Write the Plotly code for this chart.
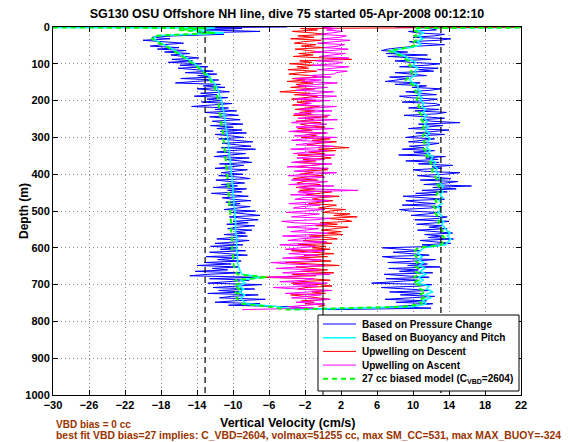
import plotly.graph_objects as go

# ---------------- data ----------------
# sample depths (m); the noisy profiles are sampled every 4 m, the smooth ones every 8 m
DEPTH_DOWN_FINE = [0, 2] + list(range(4, 764, 4))
DEPTH_UP_FINE = [768] + list(range(764, 0, -4)) + [2, 0]
DEPTH_DOWN = [0, 3] + list(range(8, 768, 8))
DEPTH_UP = [768] + list(range(760, 0, -8)) + [3, 0]

# descent: based on pressure change (cm/s), every 4 m
BLUE_DOWN = [
    -4, -15,
    -9, -13, -7, -14, -11, -16.5, -19, -17, -20, -18,
    -15.5, -17.8, -19.2, -16, -18.4, -15.2, -17.6, -14.8, -16.9, -15.5,
    -13.8, -16.8, -14.5, -17.2, -13.5, -15.9, -12.8, -16.1, -14, -12.2,
    -15.3, -11.8, -13.9, -12.5, -15.8, -11.6, -14.2, -16.4, -11.4, -13.3,
    -10.9, -14, -12.1, -10.4, -13.6, -11.8, -14.3, -10.6, -12.9, -11.2,
    -13.5, -10.1, -12.4, -14.6, -10.5, -12, -9.6, -13.1, -11, -9.4,
    -12.6, -10.7, -9.2, -12.3, -11.1, -8.9, -12.5, -10, -11.8, -9,
    -11.4, -8.5, -12, -10.2, -8.8, -11.6, -9.4, -7.8, -11.2, -9.6,
    -8, -11.3, -7.5, -10.4, -11.8, -8.6, -10, -12.1, -8.2, -10.9,
    -9.2, -7.9, -11.5, -8.8, -10.2, -12, -8.4, -9.9, -11.3, -8.9,
    -11.6, -9.3, -8.1, -11.9, -10, -8.7, -11.3, -9.5, -12.2, -8.5,
    -10.6, -9, -12.4, -9.7, -8.3, -11.2, -10.1, -8, -10.8, -9.2,
    -10.5, -8.1, -9.6, -11, -7.5, -10.2, -8.6, -7, -10.4, -8.9,
    -7.2, -10, -8.3, -10.7, -7.6, -9.4, -10.6, -7.9, -9.8, -8.6,
    -11, -8.4, -10.3, -11.8, -8.2, -9.7, -12, -8.9, -12.5, -9.5,
    -11.4, -8.6, -12.6, -10, -8.4, -13, -9.6, -11.7, -9.1, -13.2,
    -10.2, -14, -9.4, -12.3, -10.6, -14.2, -9.2, -12.8, -14.8, -7.5,
    -12.6, -8.2, -11, -12.8, -6.8, -10.4, -12.2, -7.6, -11.6, -9,
    -12.8, -7.2, -10.2, -11.5, -6.4, -9.8, -12, -7, -10.5, -4,
]
# upwelling on descent, every 4 m
RED_DOWN = [
    25, 3,
    -2.5, -0.6, -3.4, -1.2, 0.3, -2.8, -1, -3.6, -0.2, -2.2,
    -3.2, -0.8, -2.4, 0.1, -3.1, -1.5, -0.3, -2.7, -1.1, -3.3,
    0, 3.2, -2.6, -1.2, -3.7, -0.9, -2.9, -1.6, -3.9, -0.7,
    -2.5, -3.8, -1.3, -0.6, -3.4, -2, -4, -1.1, -3, -1.8,
    -3.6, -0.9, -2.7, -4.8, -1.4, -3.2, -0.6, -2.3, -3.5, -0.8,
    -2.9, -1.6, -3.4, -0.4, -2.2, -3.1, -0.9, -2.6, -1.3, -3.3,
    0.5, -2.1, -1, -3, -0.2, -2.5, -1.7, 0.2, -2.8, -1.2,
    -3.3, 0.3, -1.9, -0.7, -2.4, 0.8, -1.2, 1.5, -0.4, -1.8,
    0.6, 2.9, -0.5, 1.4, -1.6, 0.2, -2.8, -0.3, 0.9, -2.2,
    -0.8, -3.2, 0.4, -1.7, -2.9, -0.5, 0.5, -2.4, -1.1, -2.6,
    0, -1.9, -3.3, -0.6, -2.2, -2.9, -0.3, -1.5, -3, -0.9,
    -2.6, 1, -0.8, -1.9, 1.8, -0.4, -1.2, 1.1, -0.2, -1.6,
    1.5, 0.2, -0.5, 2.5, 0.8, 0, 3, 1.2, 3.8, 0.4,
    2.4, 3.2, -0.3, 1.6, -0.8, 2.8, 0.9, -0.2, 2, 0.5,
    2.2, -1.5, 0.6, 1.6, -2.2, -0.4, 1, -2.8, 0.3, -1.2,
    0.8, -3.5, -0.9, 1.2, -2.1, 0.5, -3.1, -1.5, 0.9, -4.2,
    -0.6, 1.8, -3, -1.4, 0.5, -2.5, 1.2, -3.4, -0.8, -7,
    -1.5, 0.8, -2.6, -3.5, -0.4, 1, -1.9, -2.8, 0.4, -1.2,
    0.3, -3.6, -1.8, -0.5, 0.7, -2.4, -1, -2, 0.2, -0.5,
]
# ascent: based on pressure change, every 4 m (768 m up to the surface)
BLUE_UP = [
    1,
    12, 7.5, 10.4, 12.2, 8.1, 11.5, 6.9, 9.8, 12.4, 8.6,
    11, 7.4, 12, 9.3, 6.5, 10.8, 12.1, 5.4, 8.8, 10.5,
    7, 11.8, 9, 6.8, 12.2, 8.5, 10.6, 7.3, 13, 9.4,
    11.6, 7.2, 10.2, 12.5, 8, 6.6, 11.8, 9.6, 7.8, 10.9,
    8.5, 6.6, 12.8, 11, 14.2, 12.2, 10.8, 14.5, 11.7, 13.2,
    11.3, 14.4, 12.5, 10.5, 13.8, 11.8, 13.2, 10.4, 12.6, 14,
    10.2, 12.9, 13.8, 9.8, 11.6, 12.8, 9.6, 8.5, 11.9, 13.2,
    8.8, 12.5, 10.4, 9.2, 13.5, 11.2, 8.9, 12.6, 10.3, 13.8,
    11, 14.8, 12.2, 16.5, 11.2, 13.6, 15, 10.8, 14.2, 12.4,
    10.5, 13.6, 15.2, 11.2, 10, 13.2, 12.1, 14.4, 10.6, 12.9,
    9.2, 12.8, 11.4, 13.6, 8.4, 11.9, 10.1, 12.4, 8.8, 11.2,
    9.6, 11.8, 12.9, 9.5, 11.1, 12.4, 9.2, 10.6, 13.5, 10.3,
    12.2, 14, 9.5, 11.8, 13.3, 10.6, 15.2, 12.1, 10.8, 13.5,
    11.4, 9, 12.6, 13.7, 10.2, 12.9, 9.5, 11.6, 13, 12.5,
    8.8, 11.4, 12.7, 9.6, 8.5, 12.6, 10.8, 9.2, 11.9, 13.1,
    9.9, 11.5, 8, 10.8, 6.9, 8.2, 9.5, 7.4, 11.5, 9.8,
    8, 12.3, 10.6, 12.8, 8.5, 11.4, 13, 9.7, 8, 12,
    10.1, 7.2, 11.6, 7, 9.4, 6.5, 7.2, 8.6, 10.5, 13.5,
    10.8, 9.6, 12.9, 14.2, 10, 12.4, 13.5, 10.5, 9.5, 12.6,
    11.8, 12, 8,
]
# upwelling on ascent, every 4 m
MAGENTA_UP = [
    -9,
    -1, -3.8, -2, 0.2, -3, -1.2, 0.8, -3.5, -2.1, -0.2,
    -4.2, -1.5, 1, -2.8, -5.5, -0.6, -3.3, 0.5, -4.8, -2,
    -1, -6, -3.1, 0.8, -4.5, -2.2, -0.5, -5.2, -1.6, 0.2,
    -3.8, -5.8, -1.5, -0.2, -4.5, -2.6, -0.5, -3.8, -1.3, 0.2,
    -4.2, -2.4, -0.8, -4.8, -1.9, 0.4, -3.9, -2.7, -0.3, -4.5,
    -1.4, 0.6, -3.6, -2.3, -0.5, -4, -1.8, 0.5, -3.2, -4.6,
    -1, 0.8, -3.5, -2, -0.4, -4.1, -1.5, 0.2, -3.3, -2.4,
    -0.3, -3.8, -1.6, 0.7, -3.1, -2.2, 0.9, -3.6, -1, -2.8,
    3.9, -1.4, -2.8, 1.2, -3.8, -0.9, 0.5, -3.5, -1.9, 0.2,
    -3.9, -1.1, 1.5, -3.2, -2, 0.6, -4, -1.4, 1, -3.5,
    -2.3, 0.2, -2.9, -1, 1.3, -3.3, -1.8, 0.5, -3.6, -0.7,
    1.2, -3, -1.6, 0.8, -3.5, -2.1, 1.5, -3.2, -0.8, 0.5,
    -3.8, -2, 1.2, -3, -1.2, 0.4, -3.5, -2.4, 1.6, -2.8,
    -0.6, 0.8, -3.2, -1.7, 1, -2.6, -0.9, 1.5, -2.9, -1.3,
    -2, 0.8, -3.1, -1.2, 1.5, -2.6, -0.4, 1.2, -3, -1.6,
    0.5, -2.8, -1, 1.6, -2.4, -0.2, -3.2, 0.9, -1.5, 1.2,
    1.5, 2.7, -0.6, 0.9, 2.9, -1.2, 1.4, 2.2, -0.8, 1.8,
    2.9, -0.4, 1.1, 2.5, -1, 0.6, 2.8, 0, 1.7, 2.4,
    -0.6, 1.3, 3, -0.2, 1.9, 2.6, -0.5, 1, 2.2, 0.4,
    1.5, 0, 1,
]
# descent: based on buoyancy and pitch, every 8 m
CYAN_DOWN = [
    -40, -12,
    -15, -11, -18.5, -18.8, -18.3, -17.6, -17, -16.4, -15.9, -15.4,
    -14.9, -14.4, -14, -13.6, -13.2, -12.9, -12.6, -12.3, -12.1, -11.9,
    -11.7, -11.6, -11.5, -11.4, -11.3, -11.2, -11.2, -11.1, -11, -11,
    -10.9, -10.9, -10.8, -10.8, -10.7, -10.7, -10.6, -10.6, -10.5, -10.5,
    -10.5, -10.4, -10.4, -10.4, -10.3, -10.3, -10.3, -10.2, -10.2, -10.2,
    -10.1, -10.1, -10.1, -10, -10, -10, -10, -9.9, -9.9, -9.9,
    -9.9, -9.8, -9.8, -9.8, -9.8, -9.7, -9.7, -9.7, -9.7, -9.7,
    -9.6, -9.6, -9.6, -9.6, -9.6, -9.6, -9.5, -9.5, -9.5, -9.5,
    -9.4, -9.3, -9.2, -9.0, -6.8, -9.2, -8.6, -9.4, -8.8, -9.3,
    -8.7, -9.1, -8.9, -8.5, -5,
]
# descent: 27 cc biased model, every 8 m
GREEN_DOWN = [
    -40, -13,
    -16, -12, -18.8, -19, -18.5, -17.8, -17.2, -16.6, -16.1, -15.6,
    -15.1, -14.6, -14.2, -13.8, -13.4, -13.1, -12.8, -12.5, -12.3, -12.1,
    -12, -11.9, -11.8, -11.7, -11.7, -11.6, -11.6, -11.5, -11.5, -11.4,
    -11.4, -11.3, -11.3, -11.2, -11.2, -11.1, -11.1, -11.1, -11, -11,
    -11, -10.9, -10.9, -10.9, -10.8, -10.8, -10.8, -10.7, -10.7, -10.7,
    -10.6, -10.6, -10.6, -10.5, -10.5, -10.5, -10.5, -10.4, -10.4, -10.4,
    -10.4, -10.3, -10.3, -10.3, -10.3, -10.2, -10.2, -10.2, -10.2, -10.2,
    -10.1, -10.1, -10.1, -10.1, -10.1, -10.1, -10, -10, -10, -10,
    -9.9, -9.8, -9.7, -9.5, -6.2, -9.8, -9.2, -9.9, -9.3, -9.8,
    -9.2, -9.6, -9.4, -9, -6,
]
# ascent: based on buoyancy and pitch, every 8 m
CYAN_UP = [
    -3,
    10, 11.5, 11, 12, 11.3, 12.2, 11.5, 11.8, 10.5, 11.2,
    10.6, 11.5, 10.8, 11.3, 10.7, 11.2, 10.6, 11, 10.5, 10.8,
    11.2, 13.6, 13.9, 14.2, 13.8, 14.1, 13.7, 13.5, 13.2, 13.4,
    13, 13.2, 12.8, 13.1, 12.7, 13.2, 12.9, 13.3, 13, 13.3,
    13.1, 13.4, 13, 13.2, 12.9, 12.8, 12.5, 12.7, 12.3, 12.5,
    12, 12.2, 11.6, 11.9, 11.5, 11.8, 11.6, 11.9, 11.5, 11.8,
    11.4, 11.7, 11.3, 11.6, 11.2, 11.5, 11.1, 11.4, 11, 11.2,
    10.8, 11, 10.6, 10.9, 10.5, 10.6, 10, 9.6, 9.9, 10.4,
    10.2, 10.5, 10, 10.3, 9.6, 9.2, 8.4, 7.6, 9.8, 10.9,
    10.5, 11.1, 10.6, 11.2, 10.4,
    10.8, 30,
]
# ascent: 27 cc biased model, every 8 m
GREEN_UP = [
    -4,
    9, 11, 10.6, 11.2, 10.7, 11.4, 10.8, 11, 10, 10.6,
    10.1, 10.8, 10.2, 10.6, 10.1, 10.5, 10.1, 10.4, 10, 10.2,
    10.6, 13.1, 13.4, 13.6, 13.3, 13.5, 13.2, 13, 12.8, 12.9,
    12.6, 12.7, 12.4, 12.6, 12.3, 12.7, 12.5, 12.8, 12.6, 12.8,
    12.7, 12.9, 12.6, 12.7, 12.5, 12.4, 12.1, 12.2, 11.9, 12,
    11.6, 11.7, 11.2, 11.4, 11.1, 11.3, 11.2, 11.4, 11.1, 11.3,
    11, 11.2, 10.9, 11.1, 10.8, 11, 10.7, 10.9, 10.6, 10.7,
    10.4, 10.5, 10.2, 10.4, 10.1, 10.1, 9.6, 9.2, 9.5, 9.9,
    9.8, 10, 9.6, 9.8, 9.2, 8.8, 8, 7.3, 9.4, 10.4,
    10.1, 10.6, 10.2, 10.7, 10,
    10.3, 35,
]

VEL_LIMITS = [-13.1, 13.1]   # dashed reference velocities (cm/s)
ZERO_VEL = 0
X_TICKS = [-30, -26, -22, -18, -14, -10, -6, -2, 2, 6, 10, 14, 18, 22]
Y_TICKS = [0, 100, 200, 300, 400, 500, 600, 700, 800, 900, 1000]

TITLE = "SG130 OSU Offshore NH line, dive 75 started 05-Apr-2008 00:12:10"
LEGEND_NAMES = ["Based on Pressure Change", "Based on Buoyancy and Pitch",
                "Upwelling on Descent", "Upwelling on Ascent",
                "27 cc biased model (C<sub>VBD</sub>=2604)"]
NOTE1 = "VBD bias = 0 cc"
NOTE2 = ("best fit VBD bias=27 implies: C_VBD=2604, volmax=51255 cc, "
         "max SM_CC=531, max MAX_BUOY=-324")

for a in (BLUE_DOWN, RED_DOWN):
    assert len(a) == len(DEPTH_DOWN_FINE), len(a)
for a in (BLUE_UP, MAGENTA_UP):
    assert len(a) == len(DEPTH_UP_FINE), len(a)
for a in (CYAN_DOWN, GREEN_DOWN):
    assert len(a) == len(DEPTH_DOWN), len(a)
for a in (CYAN_UP, GREEN_UP):
    assert len(a) == len(DEPTH_UP), len(a)

# ---------------- styling ----------------
FONT = "Liberation Sans, Arial, Helvetica, sans-serif"
BLUE, CYAN, RED, MAG, GREEN = "#0000ff", "#00ffff", "#ff0000", "#ff00ff", "#00ff00"
W, H = 568, 442
ML, MR, MT, MB = 53, 47, 27, 47
PW, PH = W - ML - MR, H - MT - MB


def fx(px):
    return (px - ML) / PW


def fy(py):
    return (MT + PH - py) / PH


fig = go.Figure()
fig.add_trace(go.Scatter(x=BLUE_DOWN + BLUE_UP, y=DEPTH_DOWN_FINE + DEPTH_UP_FINE,
                         mode="lines", line=dict(color=BLUE, width=1), showlegend=False))
fig.add_trace(go.Scatter(x=CYAN_DOWN + CYAN_UP, y=DEPTH_DOWN + DEPTH_UP, mode="lines",
                         line=dict(color=CYAN, width=1.5), showlegend=False))
fig.add_trace(go.Scatter(x=RED_DOWN, y=DEPTH_DOWN_FINE, mode="lines",
                         line=dict(color=RED, width=1), showlegend=False))
fig.add_trace(go.Scatter(x=MAGENTA_UP, y=DEPTH_UP_FINE, mode="lines",
                         line=dict(color=MAG, width=1), showlegend=False))
fig.add_trace(go.Scatter(x=GREEN_DOWN + GREEN_UP, y=DEPTH_DOWN + DEPTH_UP, mode="lines",
                         line=dict(color=GREEN, width=2, dash="5px,4px"), showlegend=False))
for v in VEL_LIMITS:
    fig.add_trace(go.Scatter(x=[v, v], y=[Y_TICKS[0], Y_TICKS[-1]], mode="lines",
                             line=dict(color="black", width=1.2, dash="6px,4px"),
                             showlegend=False))
fig.add_trace(go.Scatter(x=[ZERO_VEL, ZERO_VEL], y=[Y_TICKS[0], Y_TICKS[-1]], mode="lines",
                         line=dict(color="black", width=1), showlegend=False))

tickfont = dict(family=FONT, size=11, color="black", weight="bold")
axis_common = dict(showline=True, linecolor="black", linewidth=1, mirror="ticks",
                   ticks="inside", ticklen=5, tickcolor="black", tickwidth=1,
                   showgrid=True, gridcolor="#8a8a8a", griddash="1px,3px", gridwidth=1,
                   zeroline=False, tickfont=tickfont)
fig.update_xaxes(range=[X_TICKS[0], X_TICKS[-1]], tickvals=X_TICKS, **axis_common)
fig.update_yaxes(range=[Y_TICKS[-1], Y_TICKS[0]], tickvals=Y_TICKS, **axis_common)

# legend drawn as a box in the lower right
shapes = [dict(type="rect", xref="paper", yref="paper", x0=fx(318), x1=fx(519),
               y0=fy(391), y1=fy(315), fillcolor="white",
               line=dict(color="black", width=1), layer="above")]
annotations = []
row_y = [324, 337.7, 351.4, 365.1, 378.8]
leg_styles = [dict(color=BLUE, width=1), dict(color=CYAN, width=1.5),
              dict(color=RED, width=1), dict(color=MAG, width=1),
              dict(color=GREEN, width=2, dash="5px,4px")]
for name, yy, st in zip(LEGEND_NAMES, row_y, leg_styles):
    shapes.append(dict(type="line", xref="paper", yref="paper", x0=fx(323), x1=fx(356),
                       y0=fy(yy), y1=fy(yy), line=st, layer="above"))
    annotations.append(dict(text=name, xref="paper", yref="paper", x=fx(360), y=fy(yy),
                            xanchor="left", yanchor="middle", showarrow=False,
                            font=dict(family=FONT, size=10, color="black", weight="bold")))

annotations += [
    dict(text="Depth (m)", xref="paper", yref="paper", x=fx(24), y=0.5, textangle=-90,
         xanchor="center", yanchor="middle", showarrow=False,
         font=dict(family=FONT, size=12, color="black", weight="bold")),
    dict(text="Vertical Velocity (cm/s)", xref="paper", yref="paper", x=fx(288), y=fy(423),
         xanchor="center", yanchor="middle", showarrow=False,
         font=dict(family=FONT, size=12.5, color="black", weight="bold")),
    dict(text=NOTE1, xref="paper", yref="paper", x=fx(54), y=fy(424),
         xanchor="left", yanchor="middle", showarrow=False,
         font=dict(family=FONT, size=10, color="#993300", weight="bold")),
    dict(text=NOTE2, xref="paper", yref="paper", x=fx(54), y=fy(435.5),
         xanchor="left", yanchor="middle", showarrow=False,
         font=dict(family=FONT, size=10.4, color="#993300", weight="bold")),
]

fig.update_layout(
    width=W, height=H, margin=dict(l=ML, r=MR, t=MT, b=MB, pad=0),
    paper_bgcolor="white", plot_bgcolor="white", showlegend=False,
    title=dict(text=TITLE, x=0.5, xref="paper", xanchor="center",
               y=1 - 14 / H, yref="container", yanchor="middle",
               font=dict(family=FONT, size=12.5, color="black", weight="bold")),
    shapes=shapes, annotations=annotations,
)

# remove the page's default 8 px body margin so the figure sits at the window origin
fig.write_html("out.html", config={"displayModeBar": False},
               post_script="document.body.style.margin='0';")
